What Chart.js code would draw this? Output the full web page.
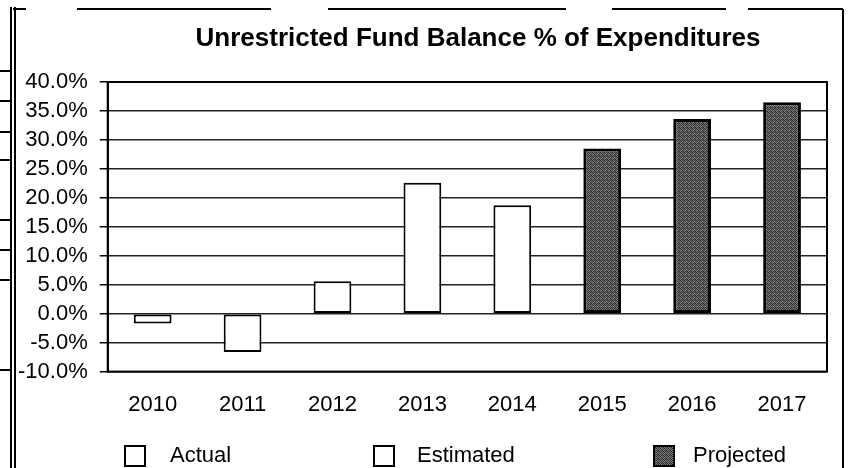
<!DOCTYPE html>
<html>
<head>
<meta charset="utf-8">
<script src="https://cdn.jsdelivr.net/npm/chart.js@4.4.1/dist/chart.umd.min.js"></script>
<style>
  html, body { margin: 0; padding: 0; background: #fff; }
  #wrap { position: relative; width: 848px; height: 468px; }
  #chart { position: absolute; left: 0; top: 0; }
  .legend-item { position: absolute; top: 443px; height: 24px; font: 22px "Liberation Sans", Arial, sans-serif; color: #000; }
  .legend-box { position: absolute; top: 2px; width: 18px; height: 18px; border: 2px solid #000; background: #fff; }
  .legend-text { position: absolute; top: 0; white-space: nowrap; line-height: 24px; }
</style>
</head>
<body>
<div id="wrap">
  <canvas id="chart" width="848" height="468"></canvas>
</div>
<script>
// chart data
const years = ['2010', '2011', '2012', '2013', '2014', '2015', '2016', '2017'];
const actualValues = [-1.7, -6.6, 5.6, 22.6, null, null, null, null];
const estimatedValues = [null, null, null, null, 18.7, null, null, null];
const projectedValues = [null, null, null, null, null, 28.5, 33.6, 36.5];
const seriesNames = ['Actual', 'Estimated', 'Projected'];
const yTicks = { min: -10, max: 40, step: 5 };
const chartTitle = 'Unrestricted Fund Balance % of Expenditures';

const FONT = '"Liberation Sans", Arial, sans-serif';

// speckled gray fill, like the scanned "projected" bars
function makeSpeckle() {
  const c = document.createElement('canvas');
  c.width = 4; c.height = 4;
  const g = c.getContext('2d');
  const shades = [
    '#2c2c2c', '#7c7c7c', '#3a3a3a', '#5e5e5e',
    '#6a6a6a', '#252525', '#8a8a8a', '#404040',
    '#4a4a4a', '#909090', '#323232', '#6f6f6f',
    '#808080', '#383838', '#555555', '#2a2a2a'
  ];
  shades.forEach((s, i) => {
    g.fillStyle = s;
    g.fillRect(i % 4, Math.floor(i / 4), 1, 1);
  });
  return c;
}
const speckleCanvas = makeSpeckle();
const ctx = document.getElementById('chart').getContext('2d');
const speckle = ctx.createPattern(speckleCanvas, 'repeat');

// frame around plot + scan borders + title
const decorations = {
  id: 'decorations',
  beforeDraw(chart) {
    const c = chart.ctx;
    c.save();
    c.strokeStyle = '#000';
    c.lineWidth = 2;
    c.beginPath();
    // left double rule
    c.moveTo(11, 7); c.lineTo(11, 468);
    c.moveTo(15, 7); c.lineTo(15, 468);
    // right rule
    c.moveTo(843, 9); c.lineTo(843, 468);
    // broken top rule
    [[13, 26], [77, 271], [328, 566], [612, 726], [748, 843]].forEach(([a, b]) => {
      c.moveTo(a, 9); c.lineTo(b, 9);
    });
    // stub of neighbouring table on the far left
    [71, 101, 132, 160, 220, 250, 280, 370].forEach(y => {
      c.moveTo(0, y); c.lineTo(11, y);
    });
    c.stroke();

    c.fillStyle = '#000';
    c.font = 'bold 26px ' + FONT;
    c.textAlign = 'center';
    c.textBaseline = 'middle';
    c.fillText(chartTitle, 478, 39);
    c.restore();
  },
  afterDraw(chart) {
    const a = chart.chartArea;
    const c = chart.ctx;
    c.save();
    c.strokeStyle = '#000';
    c.lineWidth = 2;
    c.strokeRect(a.left, a.top, a.right - a.left, a.bottom - a.top);
    c.restore();
  }
};

const barStyle = {
  grouped: false,
  barPercentage: 0.42,
  categoryPercentage: 1,
  borderSkipped: false,
  borderColor: '#000'
};

new Chart(ctx, {
  type: 'bar',
  data: {
    labels: years,
    datasets: [
      Object.assign({ label: seriesNames[0], data: actualValues, backgroundColor: '#fff', borderWidth: 2 }, barStyle),
      Object.assign({ label: seriesNames[1], data: estimatedValues, backgroundColor: '#fff', borderWidth: 2 }, barStyle),
      Object.assign({ label: seriesNames[2], data: projectedValues, backgroundColor: speckle, borderWidth: 3 }, barStyle)
    ]
  },
  options: {
    responsive: false,
    animation: false,
    layout: { padding: { left: 6, right: 21, top: 82, bottom: 38 } },
    plugins: {
      legend: { display: false },
      title: { display: false },
      tooltip: { enabled: false }
    },
    scales: {
      x: {
        grid: { display: false },
        border: { display: false },
        ticks: { color: '#000', font: { family: FONT, size: 22 }, padding: 12, maxRotation: 0 }
      },
      y: {
        min: yTicks.min,
        max: yTicks.max,
        grid: { color: '#222', lineWidth: 1.5, tickLength: 8, tickColor: '#000' },
        border: { color: '#000', width: 2 },
        ticks: {
          stepSize: yTicks.step,
          autoSkip: false,
          color: '#000',
          font: { family: FONT, size: 22 },
          padding: 12,
          callback: v => v.toFixed(1) + '%'
        }
      }
    }
  },
  plugins: [decorations]
});

// legend drawn as html below the chart
const legendSpots = [
  { box: 124, text: 170 },
  { box: 373, text: 417 },
  { box: 653, text: 693 }
];
const wrap = document.getElementById('wrap');
seriesNames.forEach((name, i) => {
  const item = document.createElement('div');
  item.className = 'legend-item';
  item.style.left = '0px';
  const box = document.createElement('div');
  box.className = 'legend-box';
  box.style.left = legendSpots[i].box + 'px';
  if (i === 2) {
    box.style.backgroundImage = 'url(' + speckleCanvas.toDataURL() + ')';
  }
  const text = document.createElement('div');
  text.className = 'legend-text';
  text.style.left = legendSpots[i].text + 'px';
  text.textContent = name;
  item.appendChild(box);
  item.appendChild(text);
  wrap.appendChild(item);
});
</script>
</body>
</html>
